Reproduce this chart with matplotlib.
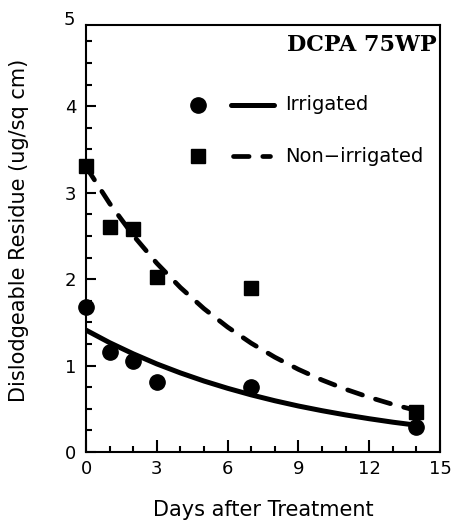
import matplotlib
matplotlib.use("Agg")
import matplotlib.pyplot as plt
from matplotlib.ticker import MultipleLocator

# ---- data ----
days = [0, 1, 2, 3, 7, 14]
irrigated = [1.68, 1.16, 1.05, 0.81, 0.75, 0.29]
non_irrigated = [3.31, 2.60, 2.58, 2.02, 1.90, 0.46]

# fitted decay curves (one value per day)
curve_days = list(range(0, 15))
irrigated_fit = [1.410, 1.265, 1.136, 1.019, 0.915, 0.821, 0.737, 0.661,
                 0.593, 0.532, 0.478, 0.429, 0.385, 0.345, 0.310]
non_irrigated_fit = [3.300, 2.876, 2.506, 2.184, 1.903, 1.658, 1.445, 1.259,
                     1.097, 0.956, 0.833, 0.726, 0.633, 0.551, 0.480]

x_ticks = [0, 3, 6, 9, 12, 15]
y_ticks = [0, 1, 2, 3, 4]

title_text = "DCPA 75WP"
legend_labels = ["Irrigated", "Non\u2212irrigated"]
xlabel = "Days after Treatment"
ylabel = "Dislodgeable Residue (ug/sq cm)"

# ---- figure ----
plt.rcParams['font.family'] = ['DejaVu Sans']
fig = plt.figure(figsize=(4.54, 5.21), dpi=100)
ax = fig.add_axes([86/454, 69/521, 354/454, 427/521])

LW_S = 3.6
LW_D = 3.4
DASH = (0, (3.3, 2.9))

ax.plot(curve_days, irrigated_fit, color='black', lw=LW_S, solid_capstyle='round',
        solid_joinstyle='round')
ax.plot(curve_days, non_irrigated_fit, color='black', lw=LW_D,
        linestyle=DASH, dash_capstyle='round', dash_joinstyle='round')
ax.plot(days, irrigated, 'o', color='black', ms=11, clip_on=False, zorder=5)
ax.plot(days, non_irrigated, 's', color='black', ms=10.5, clip_on=False, zorder=5)

ax.set_xlim(0, 15)
ax.set_ylim(0, 4.94)
ax.set_xticks(x_ticks)
ax.set_yticks(y_ticks)
ax.xaxis.set_minor_locator(MultipleLocator(1))
ax.yaxis.set_minor_locator(MultipleLocator(0.25))
ax.tick_params(which='both', direction='in', top=False, right=False,
               width=1.5, labelsize=13, color='black')
ax.tick_params(which='major', length=8.5, pad=6)
ax.tick_params(axis='y', which='major', length=7.5, pad=7)
ax.tick_params(which='minor', length=4.5)
for s in ax.spines.values():
    s.set_linewidth(1.5)

# label for y=5 (top border sits slightly below 5 in the original)
ax.text(-0.03, 5.0, "5", transform=ax.get_yaxis_transform(), ha='right',
        va='center', fontsize=13, clip_on=False)

ax.set_xlabel(xlabel, fontsize=15)
ax.set_ylabel(ylabel, fontsize=15)
ax.xaxis.set_label_coords(0.5, -0.113)
ax.yaxis.set_label_coords(-0.161, 0.519)

ax.text(0.9915, 0.952, title_text, transform=ax.transAxes, ha='right',
        va='center', fontsize=16, family='DejaVu Serif', fontweight='bold')

# legend drawn by hand
ta = ax.transAxes
def fx(px):
    return (px - 86) / 354
def fy(py):
    return (452 - py) / 427
ax.plot([fx(198)], [fy(105)], 'o', color='black', ms=11, transform=ta)
ax.plot([fx(231), fx(274)], [fy(105), fy(105)], color='black', lw=LW_S,
        solid_capstyle='round', transform=ta)
ax.text(fx(285), fy(105), legend_labels[0], transform=ta, va='center',
        ha='left', fontsize=14)
ax.plot([fx(198)], [fy(156)], 's', color='black', ms=10.5, transform=ta)
ax.plot([fx(233), fx(270)], [fy(156), fy(156)], color='black', lw=LW_D,
        linestyle=DASH, dash_capstyle='round', transform=ta)
ax.text(fx(285), fy(156), legend_labels[1], transform=ta, va='center',
        ha='left', fontsize=14)

fig.savefig("out.png", dpi=100)
